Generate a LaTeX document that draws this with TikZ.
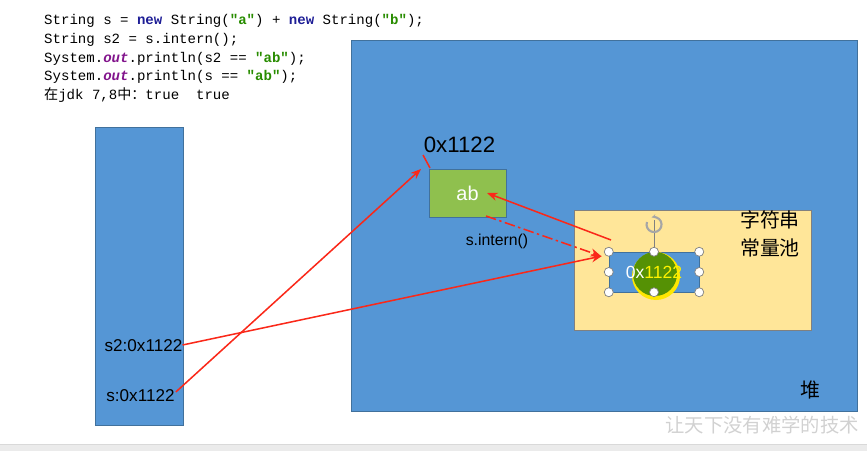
\documentclass[tikz,border=0pt]{standalone}
\usepackage{fontspec}
\setmainfont{Liberation Sans}
\setmonofont{Liberation Mono}
\newfontfamily\cjk{Noto Sans CJK SC}
\usetikzlibrary{arrows.meta, calc}

\definecolor{boxblue}{RGB}{85,150,213}
\definecolor{boxedge}{RGB}{65,113,156}
\definecolor{boxgreen}{RGB}{143,192,78}
\definecolor{poolyellow}{RGB}{255,230,153}
\definecolor{refred}{RGB}{250,40,25}
\definecolor{kwblue}{RGB}{30,30,150}
\definecolor{kwpurple}{RGB}{130,20,140}
\definecolor{strgreen}{RGB}{40,140,0}
\definecolor{cursorgreen}{RGB}{85,145,5}

\tikzset{
	memarea/.style={draw=boxedge, fill=boxblue, rectangle, inner sep=0pt},
	codeline/.style={anchor=base west, inner sep=0pt, font=\ttfamily\fontsize{12}{13}\selectfont},
	reflabel/.style={inner sep=0pt, font=\fontsize{14.6}{16}\selectfont},
	ptr/.style={draw=refred, line width=1.3pt, -{Stealth[length=9pt, width=7pt]}},
	handle/.style={circle, draw=gray, fill=white, line width=0.6pt, inner sep=0pt, minimum size=9*\u}
}

\begin{document}
\begin{tikzpicture}[x=0.03cm, y=-0.03cm]
	\def \u {0.03cm}
	\useasboundingbox (0,0) rectangle (867,451);

	% code
	\node[codeline] (line1) at (44,25) {String s = {\bfseries\color{kwblue}new} String({\bfseries\color{strgreen}"a"}) + {\bfseries\color{kwblue}new} String({\bfseries\color{strgreen}"b"});};
	\node[codeline] (line2) at (44,43.6) {String s2 = s.intern();};
	\node[codeline] (line3) at (44,62.2) {System.{\bfseries\itshape\color{kwpurple}out}.println(s2 == {\bfseries\color{strgreen}"ab"});};
	\node[codeline] (line4) at (44,80.8) {System.{\bfseries\itshape\color{kwpurple}out}.println(s == {\bfseries\color{strgreen}"ab"});};
	\node[codeline] (line5) at (44,99.4) {{\cjk 在}jdk 7,8{\cjk 中：}true\ \ true};

	% stack and heap
	\node[memarea, minimum width=88*\u, minimum height=298*\u] (stack) at (139,276) {};
	\node[memarea, minimum width=506*\u, minimum height=371*\u] (heap) at (604,225.5) {};
	\node[inner sep=0pt, font=\cjk\fontsize{17}{19}\selectfont] (heaplabel) at (810,390) {堆};

	\node[reflabel] (s2ref) at (143.5,346) {s2:0x1122};
	\node[reflabel] (sref) at (140.5,396) {s:0x1122};

	% object in heap
	\node[draw=boxedge, fill=boxgreen, minimum width=77*\u, minimum height=48*\u, text=white,
		font=\fontsize{17}{19}\selectfont] (ab) at (467.5,193) {ab};
	\node[inner sep=0pt, font=\fontsize{19}{21}\selectfont] (addr) at (459.5,145) {0x1122};

	% string constant pool
	\node[draw=gray, fill=poolyellow, minimum width=237*\u, minimum height=120*\u] (pool) at (692.5,270) {};
	\node[inner sep=0pt, align=center, font=\cjk\fontsize{17}{24}\selectfont] (poollabel) at (770,234) {字符串\\常量池};

	\node[memarea, minimum width=90*\u, minimum height=40*\u] (entry) at (654,272) {};
	\fill[yellow!90!orange] (656,276) circle (24);
	\fill[cursorgreen] (655,274) circle (22);
	\node[inner sep=0pt, font=\fontsize{15}{17}\selectfont] (entrytext) at (entry.center)
		{{\color{white}0x}{\color{yellow}1122}};

	% selection handles
	\coordinate (rot) at (654,220);
	\draw[gray, line width=0.6pt] (rot) -- (entry.north);
	\draw[black!35, line width=1.8pt, -{Stealth[length=4pt]}] ($(rot)+(-7,2)$) arc[start angle=200, end angle=-110, radius=7.5];
	\foreach \a in {north west, north, north east, east, south east, south, south west, west}
		\node[handle] at (entry.\a) {};

	% references
	\node[inner sep=0pt, font=\fontsize{13.5}{15}\selectfont] (internlabel) at (497,241) {s.intern()};
	\draw[ptr] ($(sref.east)+(1,-4)$) -- (421,169);
	\draw[draw=refred, line width=1.3pt] (423,155) -- (430,168);
	\draw[ptr] ($(s2ref.east)+(0,-1)$) -- (602,256);
	\draw[ptr] (611,240) -- (487,193);
	\draw[ptr, dash pattern=on 9pt off 3pt on 2pt off 3pt] (486,216) -- (601,256);

	% watermark and bottom bar
	\node[inner sep=0pt, text=black!18, font=\cjk\fontsize{16.5}{18}\selectfont] (mark) at (762,425) {让天下没有难学的技术};
	\fill[black!8] (0,445) rectangle (867,451);
	\draw[black!15] (0,444.5) -- (867,444.5);
\end{tikzpicture}
\end{document}
